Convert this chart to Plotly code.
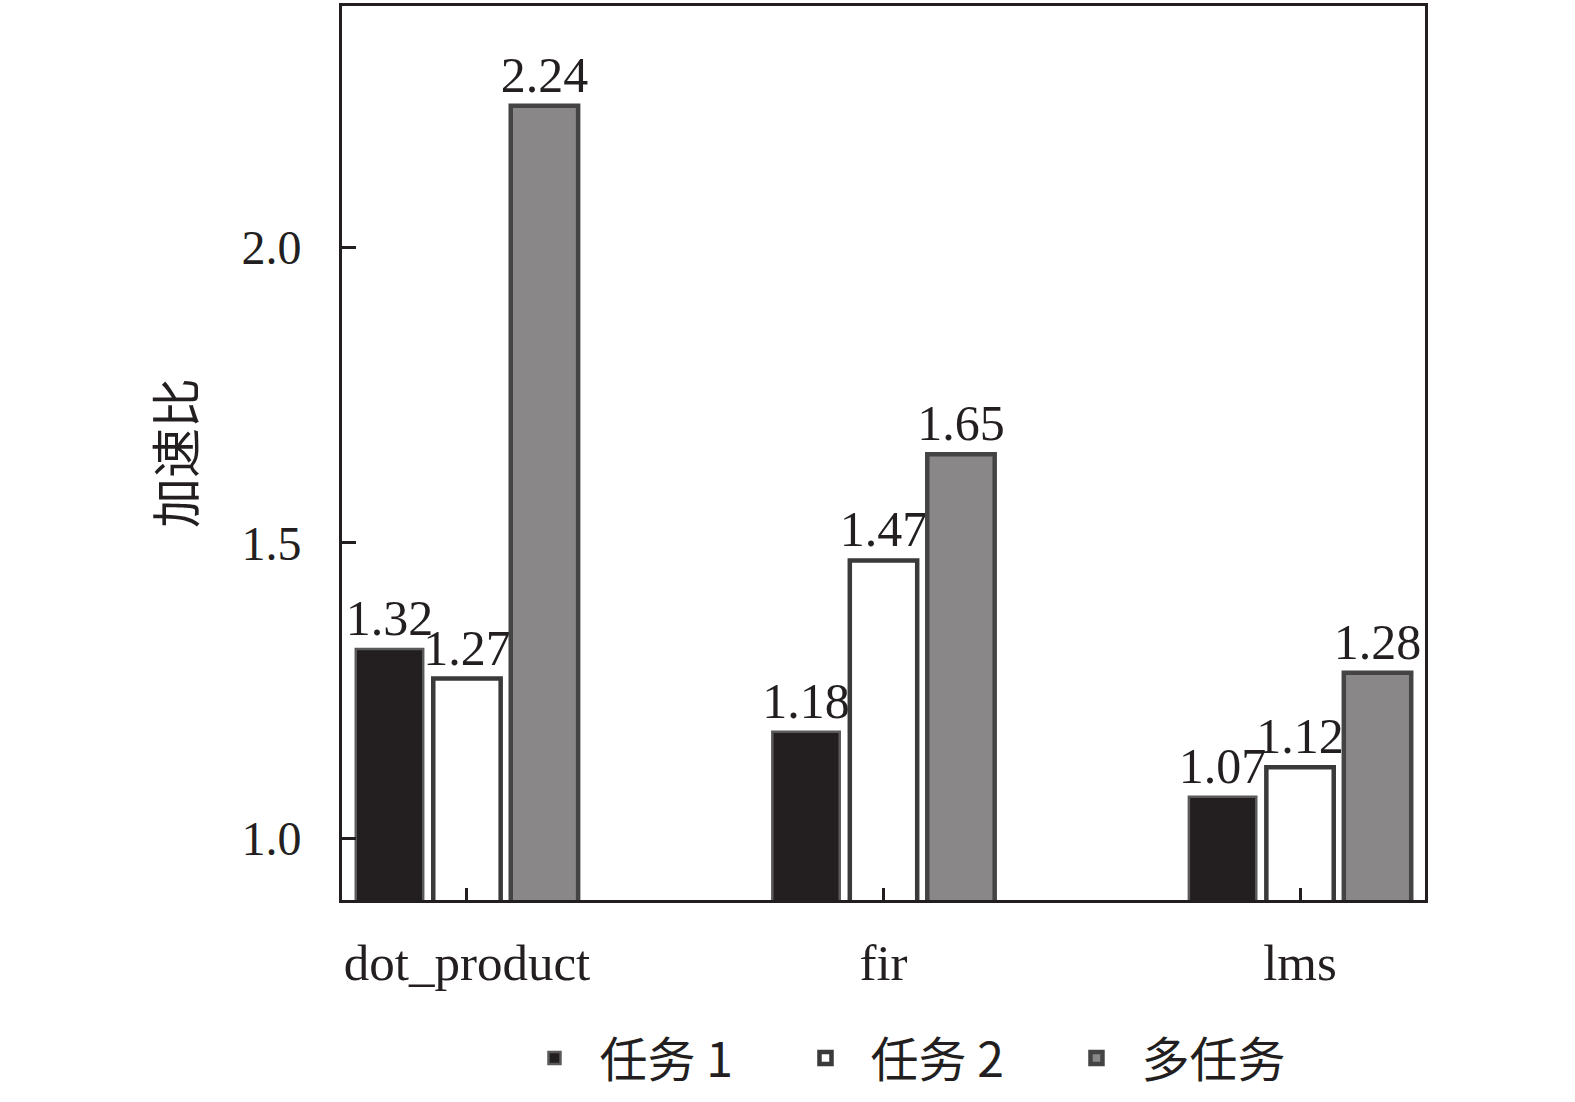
import plotly.graph_objects as go

categories = ["dot_product", "fir", "lms"]
series_names = ["任务 1", "任务 2", "多任务"]
task1 = [1.32, 1.18, 1.07]
task2 = [1.27, 1.47, 1.12]
multi = [2.24, 1.65, 1.28]
y_ticks = [1.0, 1.5, 2.0]
y_tick_labels = ["1.0", "1.5", "2.0"]

fills = ["#231f20", "#ffffff", "#8a8788"]
outlines = ["#5a5a5a", "#3a3a3a", "#444444"]
outline_w = [2.5, 4.5, 4.5]

FONT = "Liberation Serif, Times New Roman, Noto Sans CJK SC, serif"

fig = go.Figure()
for name, vals, fc, lc, lw in zip(series_names, [task1, task2, multi], fills, outlines, outline_w):
    fig.add_trace(go.Bar(
        x=categories, y=vals, name=name,
        marker=dict(color=fc, line=dict(color=lc, width=lw)),
        text=[f"{v:.2f}" for v in vals], textposition="outside",
        constraintext="none",
        textfont=dict(family=FONT, size=50, color="#231f20"),
        cliponaxis=False,
    ))

fig.update_layout(
    width=1575, height=1102,
    margin=dict(l=342, r=150, t=6, b=202, autoexpand=False),
    paper_bgcolor="white", plot_bgcolor="white",
    barmode="group", bargap=0.442, bargroupgap=0.13,
    font=dict(family=FONT, size=48, color="#231f20"),
    showlegend=True,
    legend=dict(orientation="h", x=0.53, xanchor="center", y=-0.177, yanchor="middle",
                font=dict(family="Noto Sans CJK SC, Liberation Serif", size=48, color="#231f20"),
                itemwidth=80, entrywidth=176, bgcolor="rgba(0,0,0,0)"),
    xaxis=dict(
        type="category", range=[-0.3, 2.3], automargin=False,
        showline=True, linecolor="#231f20", linewidth=3, mirror=True,
        ticks="inside", ticklen=12, tickwidth=3, tickcolor="#231f20",
        ticklabelstandoff=16,
        tickfont=dict(family=FONT, size=51, color="#231f20"),
        showgrid=False, zeroline=False,
    ),
    yaxis=dict(
        range=[0.895, 2.409], automargin=False,
        tickvals=y_ticks, ticktext=y_tick_labels,
        showline=True, linecolor="#231f20", linewidth=3, mirror=True,
        ticks="inside", ticklen=14, tickwidth=3, tickcolor="#231f20",
        ticklabelstandoff=28,
        tickfont=dict(family=FONT, size=48, color="#231f20"),
        showgrid=False, zeroline=False,
        title=dict(text="加速比", font=dict(family="Noto Sans CJK SC", size=50, color="#231f20"),
                   standoff=30),
    ),
)

fig.write_html("out.html", config={"displayModeBar": False},
               post_script="document.body.style.margin='0';")
